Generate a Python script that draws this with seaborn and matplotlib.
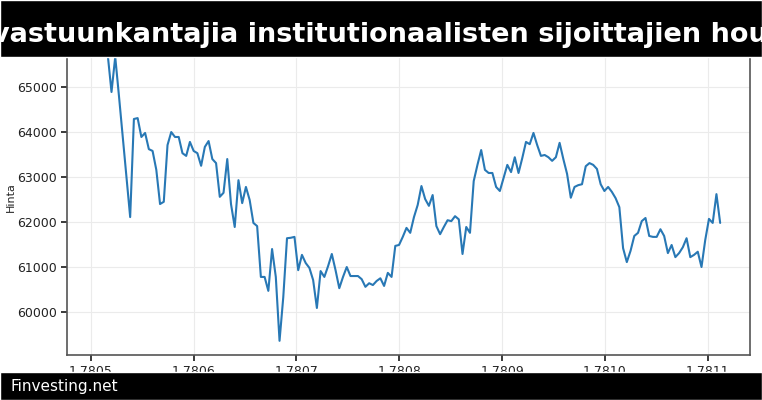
import numpy as np
import pandas as pd
import matplotlib
matplotlib.use("Agg")
import matplotlib.pyplot as plt
import seaborn as sns
from matplotlib.patches import Rectangle
from matplotlib.ticker import FormatStrFormatter

title = "vastuunkantajia institutionaalisten sijoittajien houkuttelemiseksi"
footer = "Finvesting.net"
x_start, x_end = 1.780513, 1.781112
prices = [66100, 65710, 64890, 65670, 64800, 63900, 63000, 62110, 64290, 64310, 63890, 63980, 63620, 63580, 63160,
          62400, 62450, 63710, 64000, 63890, 63890, 63530, 63470, 63780, 63580, 63530, 63250,
          63670, 63800, 63400, 63310, 62560, 62650, 63400, 62400, 61890, 62930, 62420, 62780,
          62490, 61980, 61910, 60780, 60780, 60470, 61400, 60780, 59360, 60330, 61640, 61650,
          61670, 60930, 61270, 61090, 60980, 60710, 60090, 60910, 60780, 61020, 61290, 60930,
          60530, 60780, 61000, 60800, 60800, 60800, 60730, 60560, 60640, 60600, 60690, 60750,
          60580, 60870, 60780, 61470, 61490, 61670, 61870, 61760, 62110, 62380, 62800, 62510,
          62360, 62600, 61910, 61730, 61890, 62040, 62020, 62130, 62060, 61290, 61890, 61760,
          62910, 63270, 63600, 63160, 63090, 63090, 62780, 62690, 62980, 63270, 63110, 63440,
          63090, 63420, 63780, 63730, 63980, 63710, 63470, 63490, 63440, 63360, 63440, 63760,
          63400, 63070, 62540, 62780, 62820, 62840, 63240, 63310, 63270, 63180, 62840, 62690,
          62780, 62670, 62530, 62330, 61420, 61110, 61360, 61690, 61760, 62020, 62090, 61690,
          61670, 61670, 61840, 61690, 61310, 61490, 61220, 61310, 61440, 61640, 61220, 61270,
          61340, 61000, 61600, 62070, 61980, 62620, 61980]
xvals = np.linspace(x_start, x_end, len(prices))
df = pd.DataFrame({"x": xvals, "Hinta": prices})

sns.set_theme(style="whitegrid")
fig = plt.figure(figsize=(7.62, 4.0), dpi=100)
ax = fig.add_axes([67/762, 45/400, (750-67)/762, (355-20)/400])
sns.lineplot(data=df, x="x", y="Hinta", ax=ax, color="#2878b5", linewidth=1.5)
ax.set_xlim(1.780477, 1.781141)
ax.set_ylim(59045, 66490)
ax.set_xticks([1.7805, 1.7806, 1.7807, 1.7808, 1.7809, 1.7810, 1.7811])
ax.xaxis.set_major_formatter(FormatStrFormatter("%.4f"))
ax.set_yticks([60000, 61000, 62000, 63000, 64000, 65000])
ax.set_xlabel("")
ax.set_ylabel("Hinta", fontsize=8, color="#222222")
ax.yaxis.set_label_coords(-0.075, 0.47)
ax.tick_params(axis="both", labelsize=9, colors="#222222", length=4, left=True, bottom=True)
ax.grid(color="#ebebeb", linewidth=0.8)
for s in ["left", "bottom", "right"]:
    ax.spines[s].set_color("#555555")
    ax.spines[s].set_linewidth(1.2)
ax.spines["top"].set_visible(False)

fig.patches.append(Rectangle((0, 1-57/400), 1, 57/400, transform=fig.transFigure,
                             facecolor="black", zorder=5))
fig.patches.append(Rectangle((0, 0), 1, 28/400, transform=fig.transFigure,
                             facecolor="black", zorder=5))
fig.text(-8/762, 1-35/400, title, color="white", fontsize=19.5, fontweight="bold",
         ha="left", va="center", zorder=6)
fig.text(11/762, 14/400, footer, color="white", fontsize=11, ha="left", va="center", zorder=6)
fig.savefig("out.png", dpi=100)
